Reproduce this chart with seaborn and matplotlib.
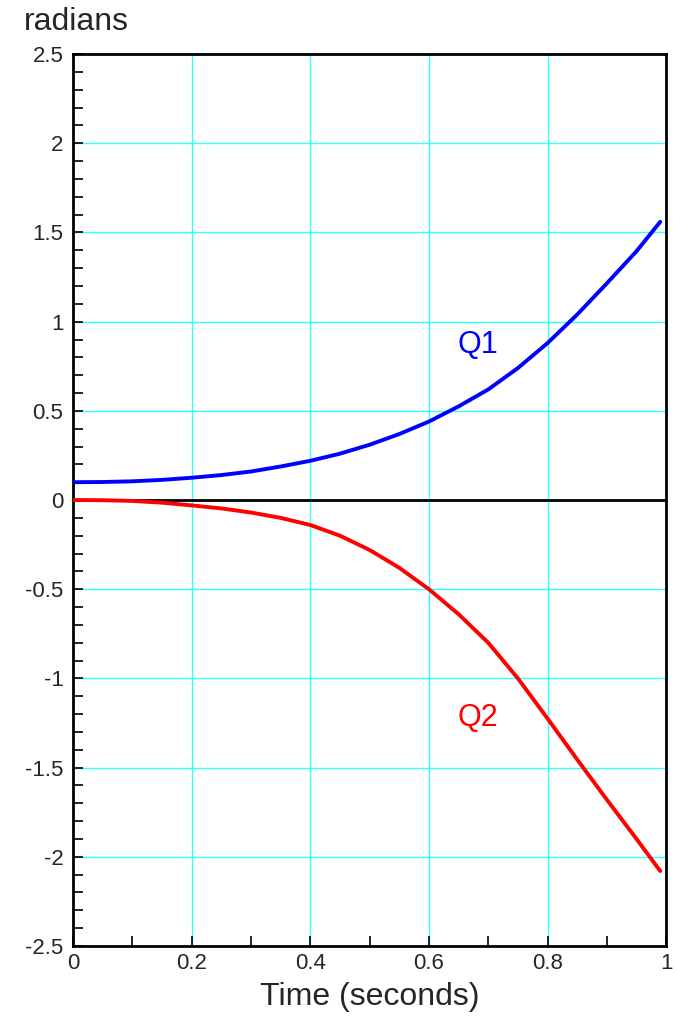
import numpy as np
import pandas as pd
import matplotlib
matplotlib.use("Agg")
import matplotlib.pyplot as plt
import seaborn as sns
from matplotlib.ticker import MultipleLocator

# dados
time = [0.0, 0.05, 0.1, 0.15, 0.2, 0.25, 0.3, 0.35, 0.4, 0.45, 0.5,
        0.55, 0.6, 0.65, 0.7, 0.75, 0.8, 0.85, 0.9, 0.95, 0.99]
q1 = [0.10, 0.101, 0.105, 0.113, 0.125, 0.14, 0.16, 0.188, 0.22, 0.26, 0.31,
      0.37, 0.44, 0.525, 0.62, 0.74, 0.88, 1.04, 1.215, 1.395, 1.56]
q2 = [0.0, -0.001, -0.005, -0.015, -0.03, -0.047, -0.07, -0.10, -0.14, -0.20, -0.28,
      -0.38, -0.50, -0.64, -0.80, -1.00, -1.225, -1.455, -1.68, -1.90, -2.08]
series = ["Q1", "Q2"]
colors = {"Q1": "#0000ff", "Q2": "#ff0000"}
x_ticks = [0, 0.2, 0.4, 0.6, 0.8, 1]
x_ticklabels = ["0", "0.2", "0.4", "0.6", "0.8", "1"]
y_ticks = [-2.5, -2, -1.5, -1, -0.5, 0, 0.5, 1, 1.5, 2, 2.5]
y_ticklabels = ["-2.5", "-2", "-1.5", "-1", "-0.5", "0", "0.5", "1", "1.5", "2", "2.5"]

df = pd.DataFrame({
    "Time": time * 2,
    "Value": q1 + q2,
    "Serie": ["Q1"] * len(time) + ["Q2"] * len(time),
})

sns.set_style("white")
plt.rcParams["font.family"] = ["Liberation Sans", "DejaVu Sans"]

fig = plt.figure(figsize=(6.77, 10.21), dpi=100)
ax = fig.add_axes([0.108, 0.0735, 0.876, 0.8735])

ax.grid(True, color="#33ffff", linewidth=1.0)
ax.set_axisbelow(True)
ax.axhline(0, color="black", linewidth=2, zorder=2)

sns.lineplot(data=df, x="Time", y="Value", hue="Serie", palette=colors,
             linewidth=2.8, legend=False, ax=ax, zorder=3)

ax.set_xlim(0, 1)
ax.set_ylim(-2.5, 2.5)
ax.set_xticks(x_ticks)
ax.set_xticklabels(x_ticklabels)
ax.set_yticks(y_ticks)
ax.set_yticklabels(y_ticklabels)
ax.xaxis.set_minor_locator(MultipleLocator(0.1))
ax.yaxis.set_minor_locator(MultipleLocator(0.1))
ax.tick_params(axis="both", which="both", direction="in", length=7, width=1.2,
               labelsize=16, color="black", bottom=True, left=True, top=False, right=False)
ax.tick_params(axis="x", which="major", pad=5)
ax.tick_params(axis="y", which="major", pad=7)

for s in ax.spines.values():
    s.set_color("black")
    s.set_linewidth(2)

ax.set_xlabel("Time (seconds)", fontsize=23, labelpad=6)
ax.set_ylabel("")
fig.text(0.035, 0.978, "radians", fontsize=23, va="center", ha="left")

ax.text(0.648, 0.87, "Q1", color=colors["Q1"], fontsize=22, va="center")
ax.text(0.648, -1.22, "Q2", color=colors["Q2"], fontsize=22, va="center")

fig.savefig("out.png", dpi=100)
